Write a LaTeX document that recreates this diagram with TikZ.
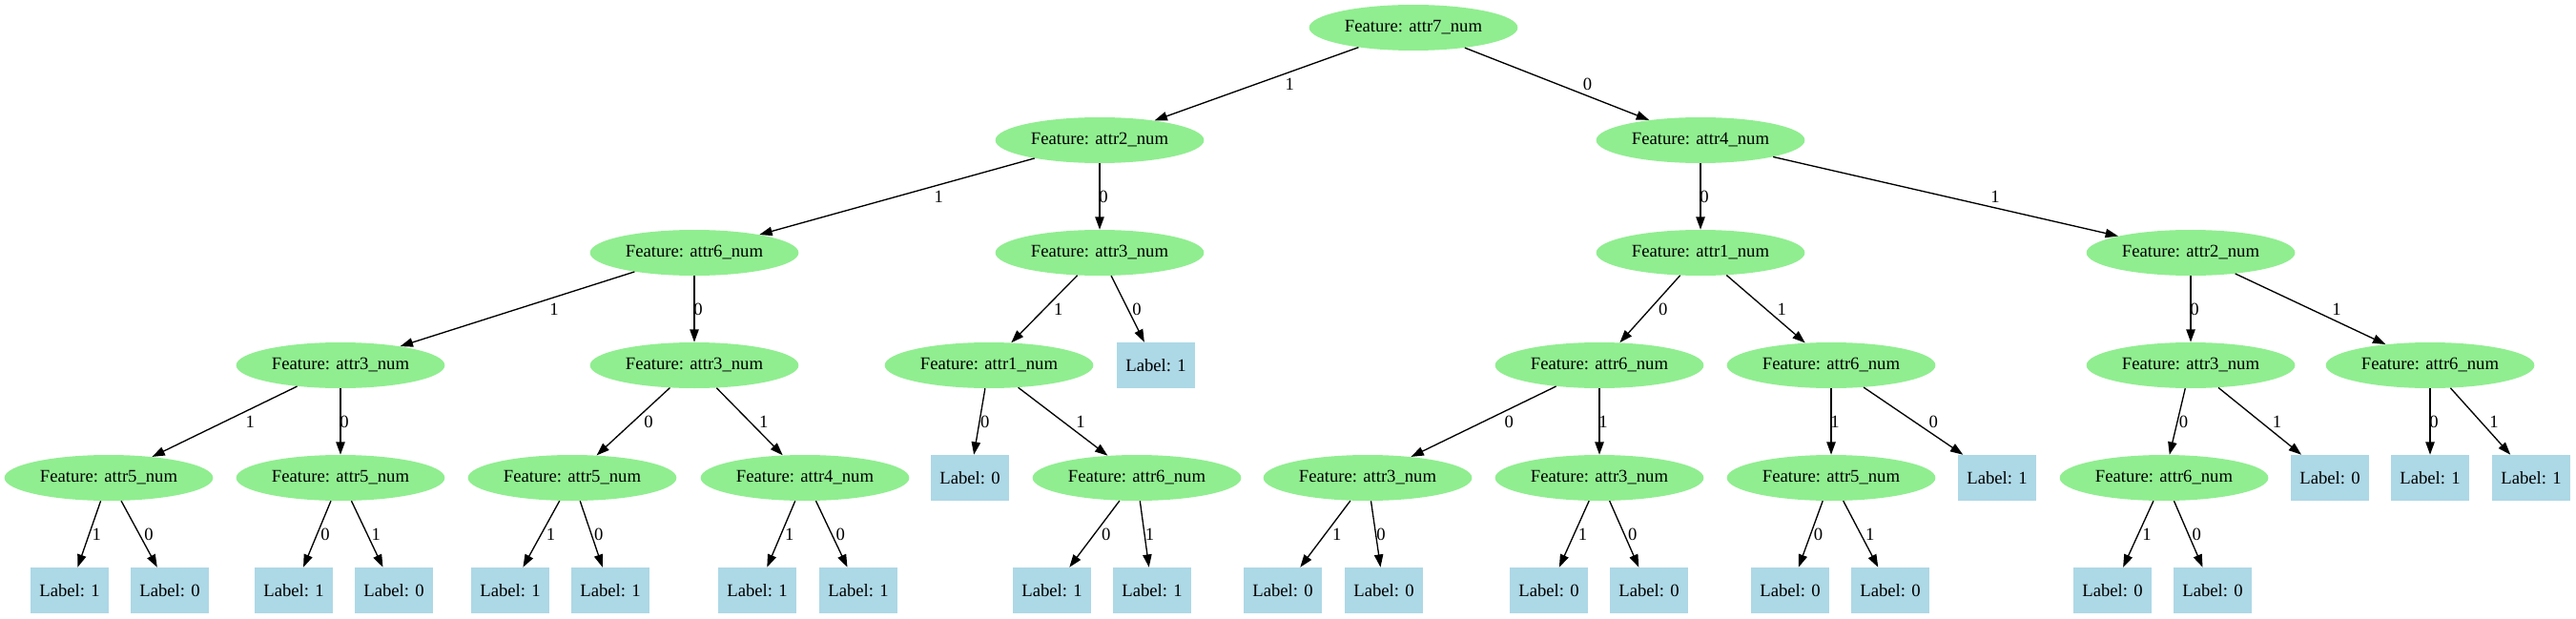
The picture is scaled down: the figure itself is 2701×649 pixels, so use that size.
\documentclass[tikz,border=0pt]{standalone}
\usepackage{fontspec}
\setmainfont{Liberation Serif}
\usetikzlibrary{calc,shapes.geometric,arrows.meta}
\definecolor{featgreen}{HTML}{90EE90}
\definecolor{leafblue}{HTML}{ADD8E6}

\begin{document}
\begin{tikzpicture}
        [x=0.75pt,y=-0.75pt,font=\fontsize{14}{16}\selectfont]
        \tikzstyle{feat}=[ellipse, fill=featgreen, inner sep=0pt,
        minimum width=164pt, minimum height=36pt]
        \tikzstyle{leaf}=[rectangle, fill=leafblue, inner sep=0pt,
        minimum width=61.5pt, minimum height=36pt]
        \tikzstyle{edge}=[line width=1pt, -{Triangle[length=10pt,width=7pt]}]
        \tikzstyle{elbl}=[inner sep=0pt]
        \useasboundingbox (0,0) rectangle (2701,649);
        %-----level 1
         \node[feat] (root) at (1482,29) {Feature: attr7\_num};
        %-----level 2
         \node[feat] (a2) at (1153,147) {Feature: attr2\_num};
         \node[feat] (a4) at (1783,147) {Feature: attr4\_num};
        %-----level 3
         \node[feat] (b6) at (728,265) {Feature: attr6\_num};
         \node[feat] (b3) at (1153,265) {Feature: attr3\_num};
         \node[feat] (b1) at (1783,265) {Feature: attr1\_num};
         \node[feat] (b2) at (2297,265) {Feature: attr2\_num};
        %-----level 4
         \node[feat] (c3a) at (357,383) {Feature: attr3\_num};
         \node[feat] (c3b) at (728,383) {Feature: attr3\_num};
         \node[feat] (c1) at (1037,383) {Feature: attr1\_num};
         \node[leaf] (c1l) at (1212,383) {Label: 1};
         \node[feat] (c6a) at (1677,383) {Feature: attr6\_num};
         \node[feat] (c6b) at (1920,383) {Feature: attr6\_num};
         \node[feat] (c3c) at (2297,383) {Feature: attr3\_num};
         \node[feat] (c6c) at (2548,383) {Feature: attr6\_num};
        %-----level 5
         \node[feat] (d5a) at (114,501) {Feature: attr5\_num};
         \node[feat] (d5b) at (357,501) {Feature: attr5\_num};
         \node[feat] (d5c) at (600,501) {Feature: attr5\_num};
         \node[feat] (d4) at (844,501) {Feature: attr4\_num};
         \node[leaf] (d0a) at (1017,501) {Label: 0};
         \node[feat] (d6a) at (1192,501) {Feature: attr6\_num};
         \node[feat] (d3a) at (1434,501) {Feature: attr3\_num};
         \node[feat] (d3b) at (1677,501) {Feature: attr3\_num};
         \node[feat] (d5d) at (1920,501) {Feature: attr5\_num};
         \node[leaf] (d1a) at (2094,501) {Label: 1};
         \node[feat] (d6b) at (2269,501) {Feature: attr6\_num};
         \node[leaf] (d0b) at (2443,501) {Label: 0};
         \node[leaf] (d1b) at (2548,501) {Label: 1};
         \node[leaf] (d1c) at (2654,501) {Label: 1};
        %-----level 6
         \node[leaf] (f1) at (73,619) {Label: 1};
         \node[leaf] (f2) at (178,619) {Label: 0};
         \node[leaf] (f3) at (308,619) {Label: 1};
         \node[leaf] (f4) at (413,619) {Label: 0};
         \node[leaf] (f5) at (535,619) {Label: 1};
         \node[leaf] (f6) at (640,619) {Label: 1};
         \node[leaf] (f7) at (794,619) {Label: 1};
         \node[leaf] (f8) at (900,619) {Label: 1};
         \node[leaf] (f9) at (1103,619) {Label: 1};
         \node[leaf] (f10) at (1208,619) {Label: 1};
         \node[leaf] (f11) at (1345,619) {Label: 0};
         \node[leaf] (f12) at (1451,619) {Label: 0};
         \node[leaf] (f13) at (1624,619) {Label: 0};
         \node[leaf] (f14) at (1729,619) {Label: 0};
         \node[leaf] (f15) at (1877,619) {Label: 0};
         \node[leaf] (f16) at (1982,619) {Label: 0};
         \node[leaf] (f17) at (2215,619) {Label: 0};
         \node[leaf] (f18) at (2320,619) {Label: 0};

         \foreach \from/\to/\lab in {root/a2/1,root/a4/0,a2/b6/1,a2/b3/0,
            a4/b1/0,a4/b2/1,b6/c3a/1,b6/c3b/0,b3/c1/1,b3/c1l/0,b1/c6a/0,
            b1/c6b/1,b2/c3c/0,b2/c6c/1,c3a/d5a/1,c3a/d5b/0,c3b/d5c/0,
            c3b/d4/1,c1/d0a/0,c1/d6a/1,c6a/d3a/0,c6a/d3b/1,c6b/d5d/1,
            c6b/d1a/0,c3c/d6b/0,c3c/d0b/1,c6c/d1b/0,c6c/d1c/1,d5a/f1/1,
            d5a/f2/0,d5b/f3/0,d5b/f4/1,d5c/f5/1,d5c/f6/0,d4/f7/1,d4/f8/0,
            d6a/f9/0,d6a/f10/1,d3a/f11/1,d3a/f12/0,d3b/f13/1,d3b/f14/0,
            d5d/f15/0,d5d/f16/1,d6b/f17/1,d6b/f18/0}
         {
         \draw[edge] (\from) -- (\to);
         \path let \p1 = ($(\to)-(\from)$) in
            node[elbl, xshift={3pt+0.0933*abs(\x1)}] (e-\to) at ($(\from)!.5!(\to)$) {\lab};
         }
        \end{tikzpicture}
\end{document}
